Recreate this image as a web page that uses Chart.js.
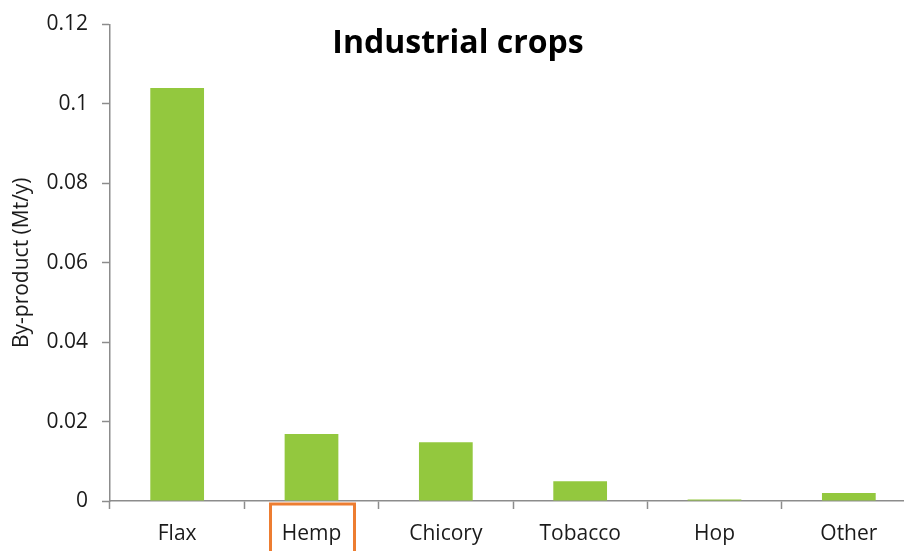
<!DOCTYPE html>
<html>
<head>
<meta charset="utf-8">
<script src="https://cdn.jsdelivr.net/npm/chart.js@4"></script>
<style>
  html, body { margin: 0; padding: 0; background: #fff; overflow: hidden; }
  #wrap { width: 920px; height: 551px; }
</style>
</head>
<body>
<div id="wrap"><canvas id="cropsChart" width="920" height="551"></canvas></div>
<script>
// Industrial crops - by-product
const categories = ['Flax', 'Hemp', 'Chicory', 'Tobacco', 'Hop', 'Other'];
const byProduct = [0.104, 0.0169, 0.0148, 0.005, 0.0004, 0.002];
const yTicks = [0, 0.02, 0.04, 0.06, 0.08, 0.1, 0.12];
const yTickLabels = ['0', '0.02', '0.04', '0.06', '0.08', '0.1', '0.12'];
const highlighted = 'Hemp';

const FONT = "'Open Sans', 'DejaVu Sans', sans-serif";

// titre dessiné par-dessus la zone du graphique
const titlePlugin = {
    id: 'overTitle',
    afterDraw(chart) {
        const ctx = chart.ctx;
        ctx.save();
        ctx.font = `bold 32px ${FONT}`;
        ctx.fillStyle = '#000';
        ctx.textAlign = 'center';
        ctx.textBaseline = 'middle';
        ctx.fillText('Industrial crops', 458, 44);
        ctx.restore();
    }
};

// cadre orange autour du libellé mis en avant
const highlightPlugin = {
    id: 'highlightLabel',
    afterDraw(chart) {
        const x = chart.scales.x.getPixelForValue(categories.indexOf(highlighted));
        const ctx = chart.ctx;
        ctx.save();
        ctx.strokeStyle = '#ED7D31';
        ctx.lineWidth = 3;
        ctx.strokeRect(x - 41, 504, 84, 60);
        ctx.restore();
    }
};

new Chart(document.getElementById('cropsChart'), {
    type: 'bar',
    data: {
        labels: categories,
        datasets: [{
            data: byProduct,
            backgroundColor: '#93C83E',
            borderWidth: 0,
            categoryPercentage: 1,
            barPercentage: 0.4
        }]
    },
    options: {
        responsive: false,
        animation: false,
        layout: { padding: { top: 24, right: 4, left: 0, bottom: 0 } },
        plugins: { legend: { display: false }, tooltip: { enabled: false }, title: { display: false } },
        scales: {
            x: {
                grid: { offset: true, drawOnChartArea: false, color: '#8c8c8c', tickLength: 8, tickWidth: 1.5 },
                border: { color: '#8c8c8c', width: 1.5 },
                ticks: { color: '#1a1a1a', font: { family: FONT, size: 21 }, padding: 12, maxRotation: 0 },
                afterFit(scale) { scale.height = 50; }
            },
            y: {
                min: 0,
                max: 0.12,
                afterBuildTicks(scale) { scale.ticks = yTicks.map(v => ({ value: v })); },
                grid: { drawOnChartArea: false, color: '#8c8c8c', tickLength: 8, tickWidth: 1.5 },
                border: { color: '#8c8c8c', width: 1.5 },
                ticks: {
                    color: '#1a1a1a',
                    font: { family: FONT, size: 21, lineHeight: 1 },
                    padding: 14,
                    callback: (v) => yTickLabels[yTicks.indexOf(v)] ?? ''
                },
                title: {
                    display: true,
                    text: 'By-product (Mt/y)',
                    color: '#1a1a1a',
                    font: { family: FONT, size: 21 },
                    padding: { top: 9, bottom: 0 }
                },
                afterFit(scale) { scale.width = 110; }
            }
        }
    },
    plugins: [titlePlugin, highlightPlugin]
});
</script>
</body>
</html>
